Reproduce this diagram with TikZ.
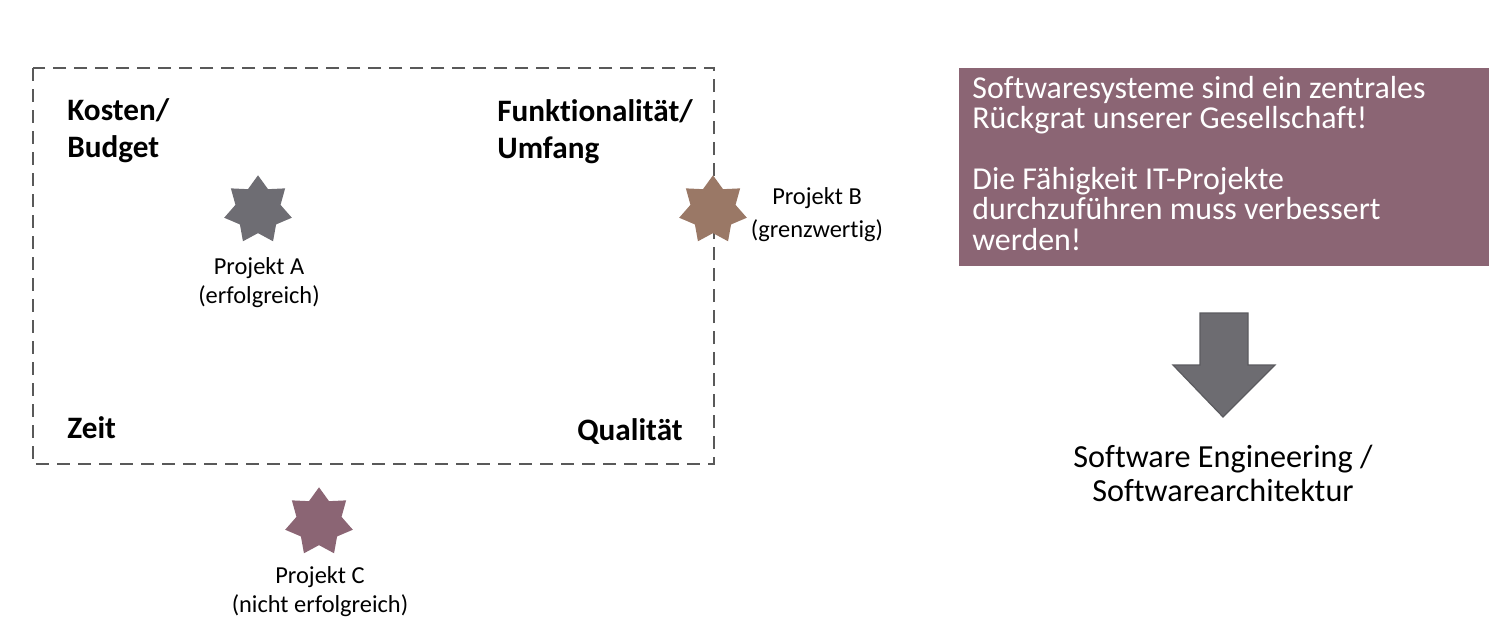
\documentclass[tikz,border=0pt]{standalone}
\usepackage{fontspec}
\setmainfont[Ligatures=NoCommon]{Carlito}
\usetikzlibrary{shapes.geometric}
\definecolor{starA}{HTML}{6E6D73}
\definecolor{starB}{HTML}{9A7866}
\definecolor{plum}{HTML}{8B6574}
\definecolor{frame}{HTML}{595959}
\definecolor{arrowfill}{HTML}{6D6C71}
\definecolor{arrowline}{HTML}{5B5B5F}
\tikzset{
  x=0.5pt, y=-0.5pt,
  frameline/.style={draw=frame, line width=1.1pt, dash pattern=on 6.5pt off 4pt},
  projstar/.style={star, star points=7, star point ratio=1.5, minimum size=34.7pt, inner sep=0pt, draw=none},
  dimlabel/.style={inner sep=0pt, align=left, font=\fontsize{15.6}{18.5}\selectfont\bfseries},
  projlabel/.style={inner sep=0pt, align=center, font=\fontsize{12.2}{14.5}\selectfont},
  msgbox/.style={fill=plum, inner sep=0pt},
  msgtext/.style={inner sep=0pt, align=left, text=white, font=\fontsize{15.95}{15.2}\selectfont},
  resulttext/.style={inner sep=0pt, align=center, font=\fontsize{16.1}{17}\selectfont},
  bigarrow/.style={fill=arrowfill, draw=arrowline, line width=0.6pt}
}
\begin{document}
\begin{tikzpicture}
\useasboundingbox (0,0) rectangle (1496,634);

% dashed frame
\draw[frameline] (33,68) rectangle (714,464);

% corner labels (base = baseline of last line)
\node[dimlabel, anchor=base west] (kosten) at (67,157) {Kosten/\\Budget};
\node[dimlabel, anchor=base west] (funkt) at (497,158) {Funktionalität/\\Umfang};
\node[dimlabel, anchor=base west] (zeit) at (67,438) {Zeit};
\node[dimlabel, anchor=base east] (quali) at (683,440) {Qualität};

% stars
\node[projstar, fill=starA] (sA) at (258,210) {};
\node[projstar, fill=starB] (sB) at (713,210) {};
\node[projstar, fill=plum] (sC) at (319,522) {};

% star labels
\node[projlabel, anchor=base] (lA) at (259,303) {Projekt A\\(erfolgreich)};
\node[projlabel, anchor=base] (lB) at (817,237) {Projekt B\\[2pt](grenzwertig)};
\node[projlabel, anchor=base] (lC) at (320,612) {Projekt C\\(nicht erfolgreich)};

% message box
\node[msgbox, minimum width=265pt, minimum height=99pt, anchor=north west] (box) at (959,68) {};
\node[msgtext, anchor=base west] (msg) at (972,250) {Softwaresysteme sind ein zentrales\\Rückgrat unserer Gesellschaft!\\[15.2pt]Die Fähigkeit IT-Projekte\\durchzuführen muss verbessert\\werden!};

% block arrow
\draw[bigarrow] (1200,313) -- (1248,313) -- (1248,365) -- (1275,365) -- (1223,417) -- (1173,365) -- (1200,365) -- cycle;

% result
\node[resulttext, anchor=base] (result) at (1223,501) {Software Engineering /\\Softwarearchitektur};
\end{tikzpicture}
\end{document}
